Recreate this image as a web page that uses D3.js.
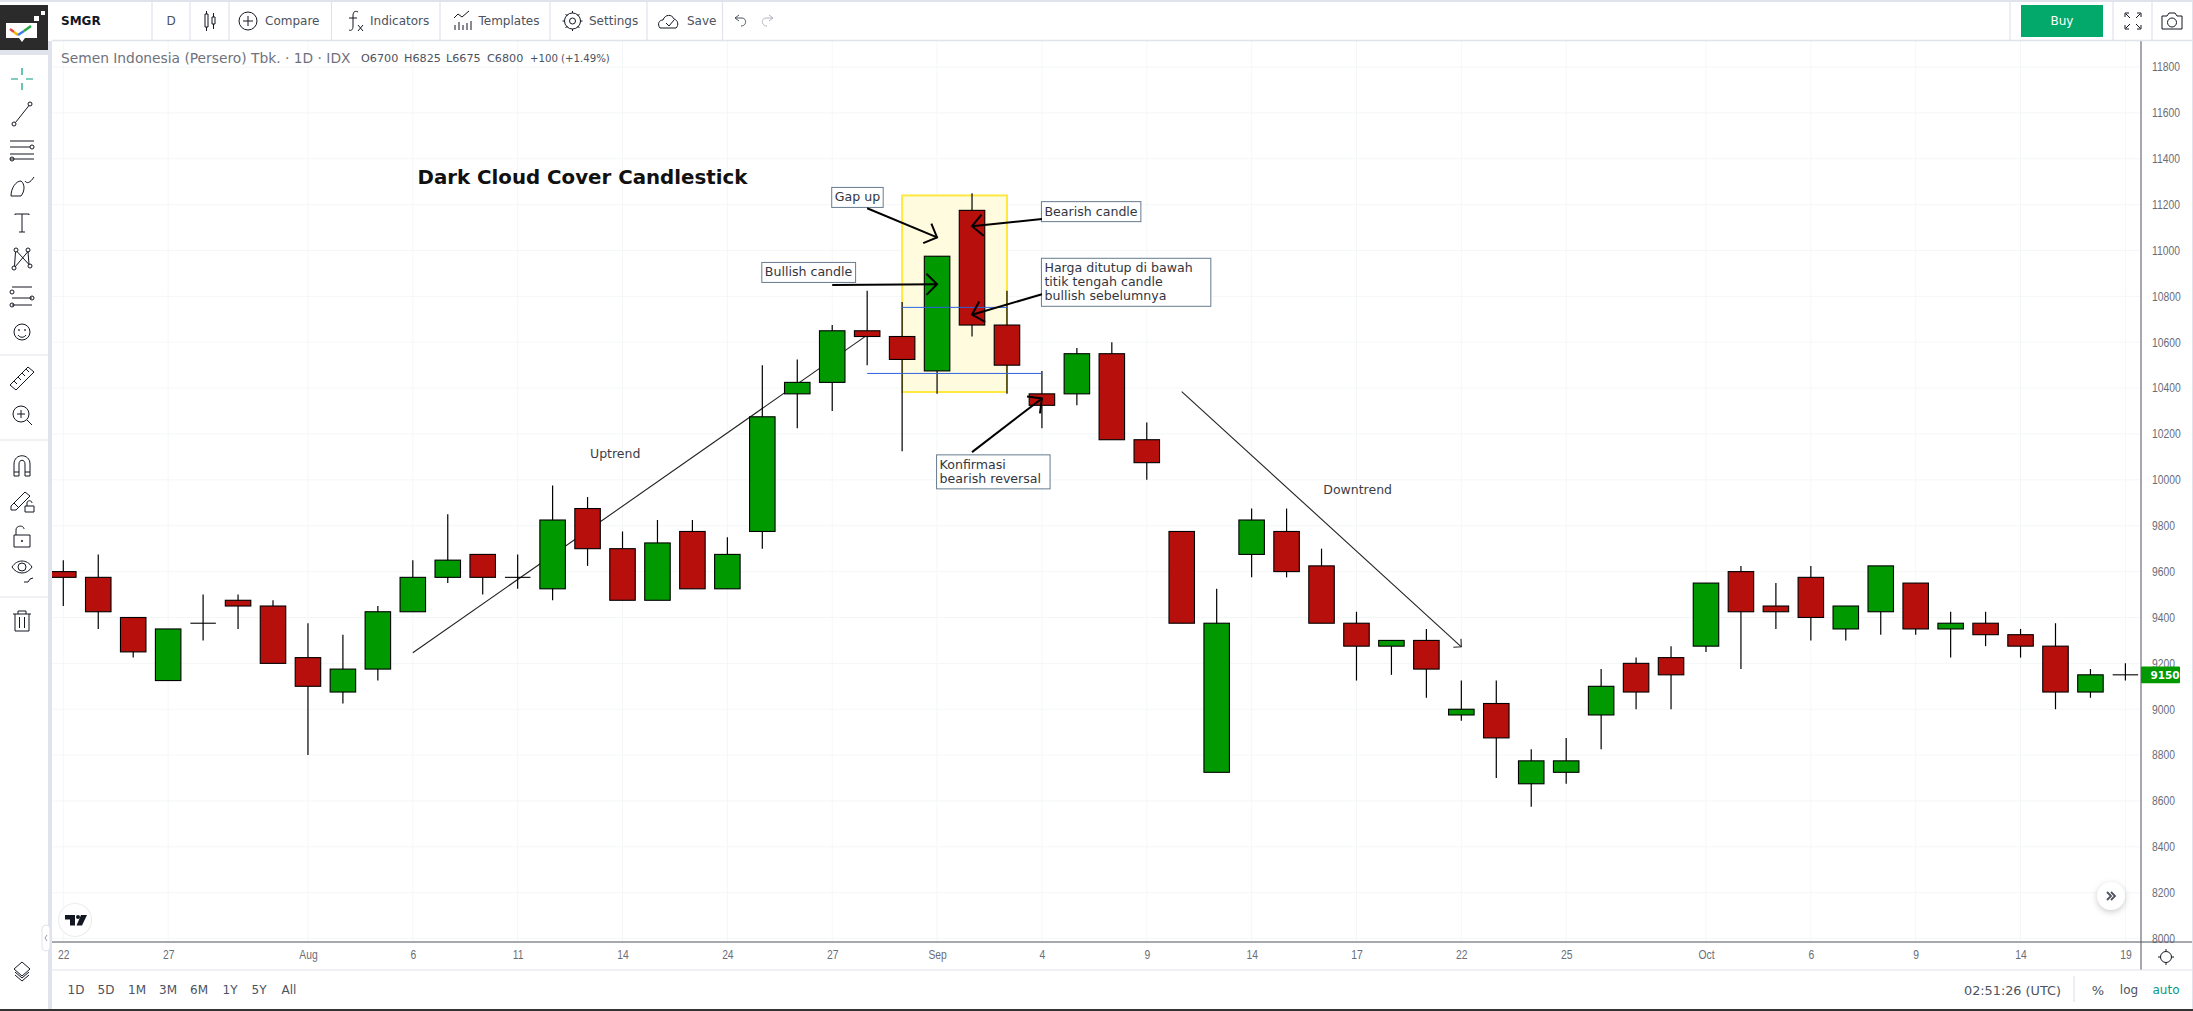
<!DOCTYPE html>
<html lang="en">

<head>
  <meta charset="UTF-8" />
  <script src="https://d3js.org/d3.v7.min.js"></script>
  <style>
    body {
      margin: 0;
      background-color: #fff;
      overflow: hidden;
    }

    svg {
      display: block;
    }

    text {
      font-family: "DejaVu Sans", sans-serif;
    }

    .axis text {
      font-family: "Liberation Sans", sans-serif;
      font-size: 12px;
      fill: #6a6d78;
    }
  </style>
</head>

<body>
  <svg width="2193" height="1011"></svg>

  <script>
    const opens = [9600, 9575, 9400, 9125, 9375, 9475, 9450, 9225, 9075, 9175,
      9425, 9575, 9675, 9575, 9525, 9875, 9700, 9475, 9775, 9525,
      9775, 10375, 10425, 10650, 10625, 10475, 11175, 10675, 10375, 10375,
      10550, 10175, 9775, 8725, 9675, 9775, 9625, 9375, 9275, 9300,
      8975, 9025, 8675, 8725, 8975, 9200, 9225, 9275, 9600, 9450,
      9575, 9350, 9425, 9550, 9350, 9375, 9325, 9275, 9075, 9150];
    const highs = [9650, 9675, 9400, 9350, 9500, 9500, 9475, 9375, 9325, 9450,
      9650, 9850, 9675, 9675, 9975, 9925, 9775, 9825, 9825, 9750,
      10500, 10525, 10675, 10825, 10775, 10975, 11250, 10825, 10475, 10575,
      10600, 10250, 9775, 9525, 9875, 9875, 9700, 9425, 9300, 9350,
      9125, 9125, 8825, 8875, 9175, 9225, 9275, 9550, 9625, 9550,
      9625, 9450, 9625, 9550, 9425, 9425, 9350, 9375, 9175, 9200];
    const lows = [9450, 9350, 9225, 9125, 9300, 9350, 9200, 8800, 9025, 9125,
      9425, 9550, 9500, 9525, 9475, 9625, 9475, 9475, 9525, 9525,
      9700, 10225, 10300, 10500, 10125, 10375, 10625, 10375, 10225, 10325,
      10175, 10000, 9375, 8725, 9575, 9575, 9375, 9125, 9150, 9050,
      8950, 8700, 8575, 8675, 8825, 9000, 9000, 9250, 9175, 9350,
      9300, 9300, 9325, 9325, 9225, 9275, 9225, 9000, 9050, 9125];
    const closes = [9575, 9425, 9250, 9350, 9375, 9450, 9200, 9100, 9175, 9425,
      9575, 9650, 9575, 9575, 9825, 9700, 9475, 9725, 9525, 9675,
      10275, 10425, 10650, 10625, 10525, 10975, 10675, 10500, 10325, 10550,
      10175, 10075, 9375, 9375, 9825, 9600, 9375, 9275, 9300, 9175,
      9000, 8875, 8775, 8775, 9100, 9075, 9150, 9550, 9425, 9425,
      9400, 9450, 9625, 9350, 9375, 9325, 9275, 9075, 9150, 9150];

    const tickIndex = [0, 3, 7, 10, 13, 16, 19, 22, 25, 28, 31, 34, 37, 40, 43, 47, 50, 53, 56, 59];
    const tickLabels = ["22", "27", "Aug", "6", "11", "14", "24", "27", "Sep", "4", "9", "14", "17", "22", "25", "Oct", "6", "9", "14", "19"];
    const priceTicks = [8000, 8200, 8400, 8600, 8800, 9000, 9200, 9400, 9600, 9800, 10000, 10200, 10400, 10600, 10800, 11000, 11200, 11400, 11600, 11800];

    // drawings, in bar index / price
    const highlightBox = { i0: 24, i1: 27, top: 11240, bottom: 10383 };
    const levels = [
      { i0: 24, i1: 27, price: 10752 },
      { i0: 23, i1: 28, price: 10464 }
    ];
    const trendLines = [
      { i0: 10, p0: 9246, i1: 23, p1: 10631, head: false },
      { i0: 32, p0: 10385, i1: 40, p1: 9272, head: true }
    ];
    const calloutArrows = [
      { i0: 23, p0: 11184, i1: 25, p1: 11057 },
      { i0: 22, p0: 10850, i1: 25, p1: 10853 },
      { i0: 28, p0: 11137, i1: 26, p1: 11106 },
      { i0: 28, p0: 10809, i1: 26, p1: 10720 },
      { i0: 26, p0: 10121, i1: 28, p1: 10355 }
    ];
    const callouts = [
      { i: 22, p: 11275, lines: ["Gap up"] },
      { i: 20, p: 10948, lines: ["Bullish candle"] },
      { i: 28, p: 11213, lines: ["Bearish candle"] },
      { i: 28, p: 10966, lines: ["Harga ditutup di bawah", "titik tengah candle", "bullish sebelumnya"] },
      { i: 25, p: 10109, lines: ["Konfirmasi", "bearish reversal"] }
    ];
    const notes = [
      { i: 15.07, p: 10117, text: "Uptrend" },
      { i: 36.05, p: 9960, text: "Downtrend" }
    ];

    const plotLeft = 52, plotRight = 2141, plotTop = 41, plotBottom = 942;
    const green = "#009900", red = "#b70f0b";
    const svg = d3.select("svg");

    const x = d3.scaleLinear().domain([0, 59]).range([63.3, 2125.4]);
    const y = d3.scaleLinear().domain([8000, 11800]).range([938.6, 67]);

    svg.append("clipPath").attr("id", "plot")
      .append("rect")
      .attr("x", plotLeft).attr("y", plotTop)
      .attr("width", plotRight - plotLeft).attr("height", plotBottom - plotTop);

    // grid
    const grid = svg.append("g").attr("stroke", "#f4f7f8");
    grid.selectAll(".h").data(priceTicks).join("line")
      .attr("x1", plotLeft).attr("x2", plotRight)
      .attr("y1", d => y(d)).attr("y2", d => y(d));
    grid.selectAll(".v").data(tickIndex).join("line")
      .attr("x1", d => x(d)).attr("x2", d => x(d))
      .attr("y1", plotTop).attr("y2", plotBottom);

    const chart = svg.append("g").attr("clip-path", "url(#plot)");

    chart.append("rect")
      .attr("x", x(highlightBox.i0)).attr("y", y(highlightBox.top))
      .attr("width", x(highlightBox.i1) - x(highlightBox.i0))
      .attr("height", y(highlightBox.bottom) - y(highlightBox.top))
      .attr("fill", "#fefbdf").attr("stroke", "#ffe83f").attr("stroke-width", 2);

    function arrowHead(g, d, len, color, width) {
      const x0 = x(d.i0), y0 = y(d.p0), x1 = x(d.i1), y1 = y(d.p1);
      const a = Math.atan2(y1 - y0, x1 - x0);
      const pts = [a + Math.PI * 0.75, a - Math.PI * 0.75].map(b => [x1 + len * Math.cos(b), y1 + len * Math.sin(b)]);
      g.append("path")
        .attr("d", `M${pts[0]}L${x1},${y1}L${pts[1]}`)
        .attr("fill", "none").attr("stroke", color).attr("stroke-width", width);
    }

    trendLines.forEach(d => {
      chart.append("line")
        .attr("x1", x(d.i0)).attr("y1", y(d.p0))
        .attr("x2", x(d.i1)).attr("y2", y(d.p1))
        .attr("stroke", "#222").attr("stroke-width", 1.1);
      if (d.head) arrowHead(chart, d, 8, "#222", 1.1);
    });

    // candles
    const bars = d3.range(opens.length).map(i => ({
      i, o: opens[i], h: highs[i], l: lows[i], c: closes[i]
    }));
    const bodyW = 25.5;

    chart.selectAll(".wick").data(bars).join("line")
      .attr("x1", d => x(d.i)).attr("x2", d => x(d.i))
      .attr("y1", d => y(d.h)).attr("y2", d => y(d.l))
      .attr("stroke", "#000").attr("stroke-width", 1.2);

    chart.selectAll(".body").data(bars.filter(d => d.o !== d.c)).join("rect")
      .attr("x", d => x(d.i) - bodyW / 2)
      .attr("width", bodyW)
      .attr("y", d => y(Math.max(d.o, d.c)))
      .attr("height", d => y(Math.min(d.o, d.c)) - y(Math.max(d.o, d.c)))
      .attr("fill", d => d.c > d.o ? green : red)
      .attr("stroke", "#000").attr("stroke-width", 1.1);

    chart.selectAll(".doji").data(bars.filter(d => d.o === d.c)).join("line")
      .attr("x1", d => x(d.i) - bodyW / 2).attr("x2", d => x(d.i) + bodyW / 2)
      .attr("y1", d => y(d.c)).attr("y2", d => y(d.c))
      .attr("stroke", "#000").attr("stroke-width", 1.1);

    levels.forEach(d => {
      chart.append("line")
        .attr("x1", x(d.i0)).attr("x2", x(d.i1))
        .attr("y1", y(d.price)).attr("y2", y(d.price))
        .attr("stroke", "#2f62e0").attr("stroke-width", 1);
    });

    // callout boxes, the wrapped ones are wider than their text
    const boxExtra = [0, 0, 0, 15, 6];
    callouts.forEach((d, n) => {
      const g = chart.append("g").attr("transform", `translate(${x(d.i) - 0.5},${y(d.p)})`);
      const t = g.append("text").attr("font-size", 12.6).attr("fill", "#33363f");
      t.selectAll("tspan").data(d.lines).join("tspan")
        .attr("x", 3).attr("y", (l, i) => 14 + i * 14).text(l => l);
      const w = t.node().getBBox().width;
      g.insert("rect", "text")
        .attr("width", w + 6 + boxExtra[n]).attr("height", d.lines.length * 14 + 6)
        .attr("fill", "#fff").attr("stroke", "#667b8f").attr("stroke-width", 1);
    });

    calloutArrows.forEach(d => {
      chart.append("line")
        .attr("x1", x(d.i0)).attr("y1", y(d.p0))
        .attr("x2", x(d.i1)).attr("y2", y(d.p1))
        .attr("stroke", "#000").attr("stroke-width", 2);
      arrowHead(chart, d, 15, "#000", 2);
    });

    notes.forEach(d => {
      chart.append("text")
        .attr("x", x(d.i)).attr("y", y(d.p))
        .attr("font-size", 12.5).attr("fill", "#3a3d46")
        .attr("dominant-baseline", "central")
        .text(d.text);
    });

    chart.append("text")
      .attr("x", 417.5).attr("y", 177)
      .attr("dominant-baseline", "central")
      .attr("font-size", 19.8).attr("font-weight", "bold").attr("fill", "#111")
      .text("Dark Cloud Cover Candlestick");

    // axis type in the screenshot is a bit narrower than anything installed
    function narrow(g) {
      g.selectAll("text").each(function () {
        this.setAttribute("textLength", this.getComputedTextLength() * 0.86);
        this.setAttribute("lengthAdjust", "spacingAndGlyphs");
      });
    }

    // axes
    const yAxis = d3.axisRight(y).tickValues(priceTicks).tickSize(0).tickPadding(11).tickFormat(d3.format("d"));
    svg.append("g").attr("class", "axis")
      .attr("transform", `translate(${plotRight},0)`).call(yAxis)
      .call(g => g.select(".domain").remove())
      .call(narrow);

    const xAxis = d3.axisBottom(x).tickValues(tickIndex).tickSize(0).tickPadding(8).tickFormat((d, i) => tickLabels[i]);
    svg.append("g").attr("class", "axis")
      .attr("transform", `translate(0,${plotBottom})`).call(xAxis)
      .call(g => g.select(".domain").remove())
      .call(narrow);

    function label(px, py, str, size, fill, anchor, weight) {
      return svg.append("text")
        .attr("x", px).attr("y", py)
        .attr("dominant-baseline", "central")
        .attr("font-size", size).attr("fill", fill)
        .attr("text-anchor", anchor || "start")
        .attr("font-weight", weight || "normal")
        .text(str);
    }

    function rule(x1, y1, x2, y2, color, w) {
      svg.append("line").attr("x1", x1).attr("y1", y1).attr("x2", x2).attr("y2", y2)
        .attr("stroke", color).attr("stroke-width", w || 1);
    }

    // chart frame
    rule(plotLeft, plotBottom, 2193, plotBottom, "#50535e");
    rule(plotRight, plotTop, plotRight, 970, "#50535e");

    // last price tag
    svg.append("rect")
      .attr("x", plotRight).attr("y", y(closes[59]) - 8.4).attr("width", 39).attr("height", 16.8)
      .attr("rx", 1).attr("fill", green);
    label(plotRight + 24, y(closes[59]), closes[59], 10.5, "#fff", "middle", "bold");

    // top toolbar
    const chrome = "#e0e3eb", ink = "#131722", soft = "#4c525e";
    rule(0, 1, 2193, 1, chrome, 2);
    rule(52, 40.5, 2193, 40.5, chrome, 1.5);
    [152, 190, 229, 331.5, 440, 550, 647, 722.5, 2010, 2113, 2152].forEach(px => rule(px, 2, px, 40, chrome, 1.2));
    label(61, 21, "SMGR", 12, ink, "start", "bold");
    label(171, 21, "D", 12, soft, "middle");
    label(265, 21, "Compare", 12, soft);
    label(370, 21, "Indicators", 12, soft);
    label(478.5, 21, "Templates", 12, soft);
    label(589, 21, "Settings", 12, soft);
    label(687, 21, "Save", 12, soft);

    svg.append("rect").attr("x", 2021).attr("y", 5).attr("width", 82).attr("height", 32).attr("fill", "#03a96b");
    label(2062, 21, "Buy", 12, "#fff", "middle");

    function icon(px, py, d, color, w) {
      svg.append("path").attr("transform", `translate(${px},${py})`)
        .attr("d", d).attr("fill", "none").attr("stroke", color || ink).attr("stroke-width", w || 1);
    }
    const circle = (cx, cy, r) => `M${cx - r},${cy}a${r},${r} 0 1 0 ${2 * r},0a${r},${r} 0 1 0 ${-2 * r},0`;

    icon(210, 21, "M-5,-7h3v13h-3zM-3.5,-10v3M-3.5,6v4M2,-4h3v7h-3zM3.5,-8v4M3.5,3v5");
    icon(248, 21, circle(0, 0, 9) + "M-5,0h10M0,-5v10");
    icon(354, 21, "M4,-9c-4,-2 -5,1 -5,4v10c0,4 -2,5 -4,4M-5,-3h8M4,4l5,6M9,4l-5,6");
    icon(463, 21, "M-9,-3l4,-4l4,3l7,-6M-8,9v-5M-4,9v-8M0,9v-5M4,9v-7M8,9v-9");
    icon(572.5, 21, circle(0, 0, 3) + circle(0, 0, 8) + "M0,-10v2M0,8v2M-10,0h2M8,0h2M-7,-7l2,2M5,5l2,2M-7,7l2,-2M5,-5l2,-2");
    icon(669, 21, "M-9,7c-3,-4 -1,-8 3,-8c2,-6 9,-6 11,-1c4,1 5,6 2,9zM-3,2l3,3l5,-6");
    icon(740, 21, "M-5,-3l4,-3M-5,-3l4,3M-5,-3h7c5,0 5,8 -1,8", soft);
    icon(768, 21, "M5,-3l-4,-3M5,-3l-4,3M5,-3h-7c-5,0 -5,8 1,8", "#b2b5be");
    icon(2133, 21, "M-8,-4v-4h4M4,-8h4v4M-8,4v4h4M8,4v4h-4M-7,-7l4,4M7,-7l-4,4M-7,7l4,-4M7,7l-4,-4");
    icon(2172, 21, "M-10,-5h5l2,-3h6l2,3h5v13h-20z" + circle(0, 1.5, 4.5));

    // legend line
    const legendGray = "#6f727d";
    label(61, 58, "Semen Indonesia (Persero) Tbk. · 1D · IDX", 13.8, legendGray);
    label(361, 58, "O6700", 11.2, soft);
    label(404, 58, "H6825", 11.2, soft);
    label(446, 58, "L6675", 11.2, soft);
    label(487, 58, "C6800", 11.2, soft);
    label(530, 58, "+100", 10.2, soft);
    label(561, 58, "(+1.49%)", 10.2, soft);

    // left toolbar
    svg.append("rect").attr("x", 48).attr("y", 41).attr("width", 4).attr("height", 968).attr("fill", chrome);
    svg.append("rect").attr("x", 0).attr("y", 50).attr("width", 52).attr("height", 5).attr("fill", chrome);
    svg.append("rect").attr("x", 0).attr("y", 5).attr("width", 48).attr("height", 45).attr("fill", "#2b2b2b");
    svg.append("path").attr("d", "M6,23h31v15h-12l-3,4l-3,-4h-13z").attr("fill", "#fff");
    svg.append("path").attr("d", "M10,29l4,3").attr("stroke", "#e8483f").attr("stroke-width", 2.5);
    svg.append("path").attr("d", "M14,32l4,3").attr("stroke", "#f4b400").attr("stroke-width", 2.5);
    svg.append("path").attr("d", "M18,35l6,-4").attr("stroke", "#3a7ee8").attr("stroke-width", 2.5);
    svg.append("path").attr("d", "M24,31l7,-5").attr("stroke", "#27a845").attr("stroke-width", 2.5);
    svg.append("path").attr("d", "M34,16h5v5h-5zM41,11h4v4h-4z").attr("fill", "#fff");

    icon(22, 79, "M0,-11v7M0,4v7M-11,0h7M4,0h7", "#089981", 1.2);
    icon(22, 114, circle(8, -10, 2) + circle(-8, 10, 2) + "M7,-8.5l-13.5,17");
    icon(22, 150, "M-12,-9h24M-12,-3h20M-12,9h24M-12,4h24" + circle(10, -3, 2) + circle(-10, 9, 2));
    icon(22, 187, "M-11,9c0,-8 5,-15 10,-15c4,3 4,10 0,15zM3,-6c2,3 5,2 9,-4");
    icon(22, 223, "M-7,-8v-1h14v1M0,-9v18M-3,9h6");
    icon(22, 259, circle(-8, 9, 2) + circle(8, 7, 2) + circle(-6, -9, 2) + circle(6, -9, 2) + "M-7.5,7l1,-14M-7,8l13,-15.5M7,5.5l-1,-13M-5,-7.5l12,13");
    icon(22, 296, "M-10,-9h20M-10,9h20M-10,2h20" + circle(-10, -4, 2) + circle(10, 2, 2) + circle(-10, 9, 2));
    icon(22, 332, circle(0, 0, 8) + circle(-3, -2, 0.5) + circle(3, -2, 0.5) + "M-4,3c2,3 6,3 8,0");
    rule(0, 355, 48, 355, chrome, 1.2);
    icon(22, 379, "M-12,6l18,-18l6,5l-18,18zM-8,2l3,3M-4,-2l3,3M0,-6l3,3M4,-10l3,3");
    icon(22, 415, circle(-1, -1, 8) + "M-5,-1h8M-1,-5v8M5,5l5,5");
    rule(0, 440, 48, 440, chrome, 1.2);
    icon(22, 464, "M-8,12v-12c0,-11 16,-11 16,0v12h-5v-12c0,-5 -6,-5 -6,0v12zM-8,8h5M3,8h5");
    icon(22, 500, "M-11,6l14,-14l5,4l-14,14h-5zM-8,3l5,5M3,6h9v6h-9zM5,6v-3c0,-3 5,-3 5,0");
    icon(22, 537, "M-8,-2h16v12h-16zM-6,-2v-5c0,-5 8,-5 8,-1" + circle(0, 4, 0.7));
    icon(22, 571, "M-10,-4c5,-8 15,-8 20,0c-5,8 -15,8 -20,0z" + circle(0, -4, 4) + "M2,11h4l2,-3l3,-1");
    rule(0, 597, 48, 597, chrome, 1.2);
    icon(22, 623, "M-9,-9h18M-7,-9v17h14v-17M-4,-9v-3h8v3M-2.5,-6v11M2.5,-6v11");
    icon(22, 971, "M0,-9l8,7l-8,7l-8,-7zM-7,1l7,6l7,-6M-7,4l7,6l7,-6");

    // tradingview mark and scroll button
    svg.append("circle").attr("cx", 75).attr("cy", 920).attr("r", 16.5).attr("fill", "#fff").attr("stroke", "#eceef2").attr("stroke-width", 1.2);
    svg.append("path").attr("d", "M65,915h10v10.5h-5v-6h-5z").attr("fill", ink);
    svg.append("circle").attr("cx", 78).attr("cy", 917).attr("r", 2).attr("fill", ink);
    svg.append("path").attr("d", "M81,915h6l-5,10.5h-5.5z").attr("fill", ink);
    svg.append("rect").attr("x", 42).attr("y", 925).attr("width", 8).attr("height", 26).attr("rx", 4).attr("fill", "#fff").attr("stroke", chrome);
    icon(46, 938, "M1,-3l-2,3l2,3", "#9598a1");

    svg.append("circle").attr("cx", 2111).attr("cy", 896).attr("r", 14).attr("fill", "#fff")
      .style("filter", "drop-shadow(0 2px 3px rgba(0,0,0,.2))");
    icon(2111, 896, "M-4,-4l4,4l-4,4M0,-4l4,4l-4,4", soft, 1.8);

    // bottom bar
    rule(52, 970, 2193, 970, chrome, 1.2);
    ["1D", "5D", "1M", "3M", "6M", "1Y", "5Y", "All"].forEach((s, i) => {
      label([76, 106, 137, 168, 199, 230, 259, 289][i], 990, s, 12, soft, "middle");
    });
    label(1964, 990, "02:51:26 (UTC)", 12.8, soft);
    rule(2074, 976, 2074, 1002, chrome, 1.2);
    label(2098, 990, "%", 13, soft, "middle");
    label(2129, 990, "log", 12, soft, "middle");
    label(2166, 990, "auto", 12, "#089981", "middle");
    icon(2166, 957, circle(0, 0, 5.5) + "M0,-8v2M0,6v2M-8,0h2M6,0h2");
    svg.append("rect").attr("x", 0).attr("y", 1009).attr("width", 2193).attr("height", 2).attr("fill", "#333");
    rule(2192.5, 0, 2192.5, 1009, chrome, 1);
  </script>
</body>

</html>
